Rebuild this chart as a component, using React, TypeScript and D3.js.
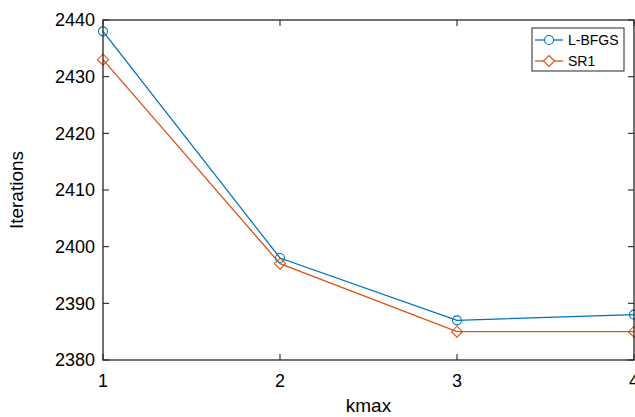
import React, { useEffect, useRef } from "react";
import * as d3 from "d3";

const kmax = [1, 2, 3, 4];
const lbfgs = [2438, 2398, 2387, 2388];
const sr1 = [2433, 2397, 2385, 2385];
const yTicks = [2380, 2390, 2400, 2410, 2420, 2430, 2440];
const seriesNames = ["L-BFGS", "SR1"];

const App = () => {
  const svgRef = useRef<SVGSVGElement>(null);

  useEffect(() => {
    const svg = d3.select(svgRef.current);
    svg.selectAll("*").remove();

    const width = 635;
    const height = 417;
    const margin = { top: 20, right: 1, bottom: 57, left: 103 };
    const font = "'Liberation Sans', Arial, Helvetica, sans-serif";
    const axisColor = "#262626";
    const colors = ["#0072BD", "#D95319"];

    const x = d3
      .scaleLinear()
      .domain([1, 4])
      .range([margin.left, width - margin.right]);
    const y = d3
      .scaleLinear()
      .domain([2380, 2440])
      .range([height - margin.bottom, margin.top]);

    svg.append("rect").attr("width", width).attr("height", height).attr("fill", "#fff");

    // data lines
    const line = d3
      .line<number>()
      .x((d, i) => x(kmax[i]))
      .y((d) => y(d));

    const all = [lbfgs, sr1];
    all.forEach((vals, si) => {
      svg
        .append("path")
        .datum(vals)
        .attr("fill", "none")
        .attr("stroke", colors[si])
        .attr("stroke-width", 1.3)
        .attr("d", line);
    });

    // markers
    svg
      .append("g")
      .selectAll("circle")
      .data(lbfgs)
      .enter()
      .append("circle")
      .attr("cx", (d, i) => x(kmax[i]))
      .attr("cy", (d) => y(d))
      .attr("r", 4.5)
      .attr("fill", "none")
      .attr("stroke", colors[0])
      .attr("stroke-width", 1.1);

    const diamond = (cx: number, cy: number, s: number) =>
      `M${cx},${cy - s}L${cx + s},${cy}L${cx},${cy + s}L${cx - s},${cy}Z`;

    svg
      .append("g")
      .selectAll("path")
      .data(sr1)
      .enter()
      .append("path")
      .attr("d", (d, i) => diamond(x(kmax[i]), y(d), 5.5))
      .attr("fill", "none")
      .attr("stroke", colors[1])
      .attr("stroke-width", 1.1);

    // axes box
    const x0 = x(1), x1 = x(4), y0 = y(2380), y1 = y(2440);
    svg
      .append("rect")
      .attr("x", x0)
      .attr("y", y1)
      .attr("width", x1 - x0)
      .attr("height", y0 - y1)
      .attr("fill", "none")
      .attr("stroke", axisColor)
      .attr("stroke-width", 1.3);

    const tl = 6;
    const ticks = svg.append("g").attr("stroke", axisColor).attr("stroke-width", 1.1);
    yTicks.forEach((t) => {
      ticks.append("line").attr("x1", x0).attr("x2", x0 + tl).attr("y1", y(t)).attr("y2", y(t));
      ticks.append("line").attr("x1", x1).attr("x2", x1 - tl).attr("y1", y(t)).attr("y2", y(t));
    });
    kmax.forEach((t) => {
      ticks.append("line").attr("x1", x(t)).attr("x2", x(t)).attr("y1", y0).attr("y2", y0 - tl);
      ticks.append("line").attr("x1", x(t)).attr("x2", x(t)).attr("y1", y1).attr("y2", y1 + tl);
    });

    // tick labels
    svg
      .append("g")
      .selectAll("text")
      .data(yTicks)
      .enter()
      .append("text")
      .attr("x", x0 - 8)
      .attr("y", (d) => y(d))
      .attr("dy", "0.36em")
      .attr("text-anchor", "end")
      .attr("font-family", font)
      .attr("font-size", 18)
      .attr("fill", "#000")
      .text((d) => d);

    svg
      .append("g")
      .selectAll("text")
      .data(kmax)
      .enter()
      .append("text")
      .attr("x", (d) => x(d))
      .attr("y", y0 + 27)
      .attr("text-anchor", "middle")
      .attr("font-family", font)
      .attr("font-size", 18)
      .attr("fill", "#000")
      .text((d) => d);

    // axis titles
    svg
      .append("text")
      .attr("x", (x0 + x1) / 2)
      .attr("y", 412)
      .attr("text-anchor", "middle")
      .attr("font-family", font)
      .attr("font-size", 19)
      .attr("fill", "#000")
      .text("kmax");

    svg
      .append("text")
      .attr("transform", `translate(23,${(y0 + y1) / 2}) rotate(-90)`)
      .attr("text-anchor", "middle")
      .attr("font-family", font)
      .attr("font-size", 19)
      .attr("fill", "#000")
      .text("Iterations");

    // legend
    const lg = svg.append("g").attr("transform", "translate(532,28)");
    lg.append("rect")
      .attr("width", 92)
      .attr("height", 43)
      .attr("fill", "#fff")
      .attr("stroke", axisColor)
      .attr("stroke-width", 1);
    seriesNames.forEach((name, i) => {
      const cy = 12 + i * 21;
      lg.append("line")
        .attr("x1", 3)
        .attr("x2", 31)
        .attr("y1", cy)
        .attr("y2", cy)
        .attr("stroke", colors[i])
        .attr("stroke-width", 1.3);
      if (i === 0) {
        lg.append("circle")
          .attr("cx", 17)
          .attr("cy", cy)
          .attr("r", 4.5)
          .attr("fill", "#fff")
          .attr("stroke", colors[i])
          .attr("stroke-width", 1.1);
      } else {
        lg.append("path")
          .attr("d", diamond(17, cy, 5.5))
          .attr("fill", "#fff")
          .attr("stroke", colors[i])
          .attr("stroke-width", 1.1);
      }
      lg.append("text")
        .attr("x", 36)
        .attr("y", cy)
        .attr("dy", "0.36em")
        .attr("font-family", font)
        .attr("font-size", 14)
        .attr("fill", "#000")
        .text(name);
    });
  }, []);

  return (
    <svg
      ref={svgRef}
      width="635"
      height="417"
      style={{ position: "absolute", left: 0, top: 0 }}
    ></svg>
  );
};

export default App;
